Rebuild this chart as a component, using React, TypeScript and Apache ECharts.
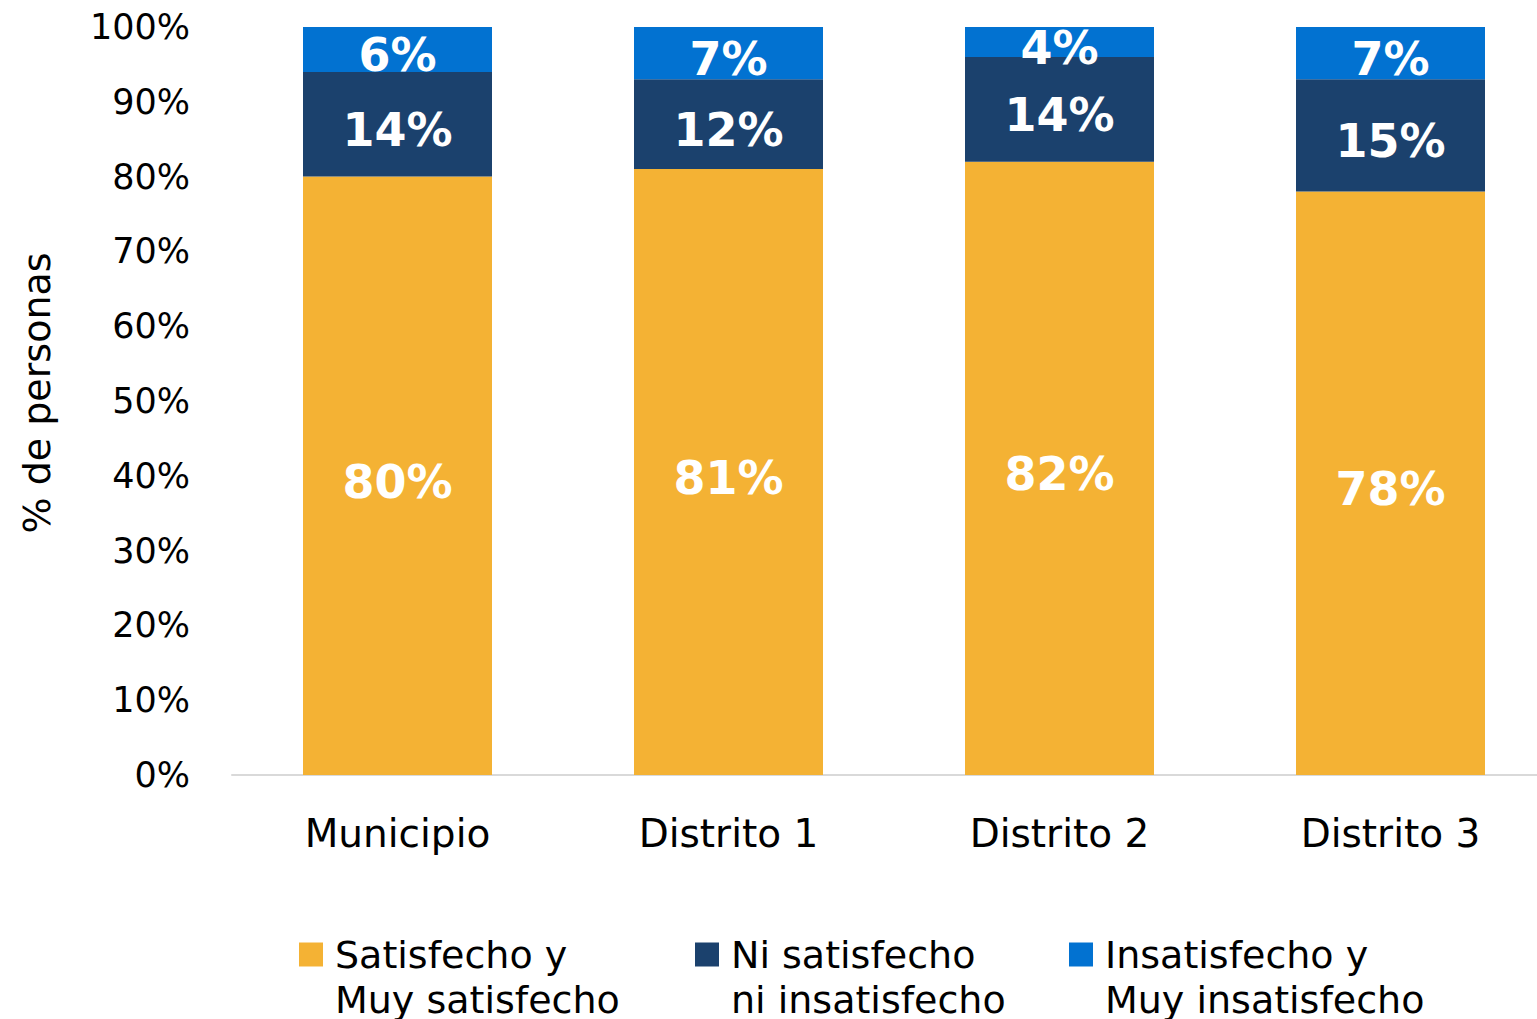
import React, { useEffect, useRef } from "react";
import * as echarts from "echarts";

const categories = ["Municipio", "Distrito 1", "Distrito 2", "Distrito 3"];
const seriesNames = [
  "Satisfecho y\nMuy satisfecho",
  "Ni satisfecho\nni insatisfecho",
  "Insatisfecho y\nMuy insatisfecho",
];
const satisfechos = [80, 81, 82, 78];
const neutros = [14, 12, 14, 15];
const insatisfechos = [6, 7, 4, 7];
const yTicks = { min: 0, max: 100, interval: 10 };

const colors = ["#F4B234", "#1B416D", "#0272D1"];
const FONT = "DejaVu Sans";

export default function App() {
  const ref = useRef<HTMLDivElement>(null);
  useEffect(() => {
    if (!ref.current) return;
    const chart = echarts.init(ref.current, null, { renderer: "svg" });
    const dataSets = [satisfechos, neutros, insatisfechos];
    const legendLefts = [299, 695, 1069];
    chart.setOption({
      animation: false,
      textStyle: { fontFamily: FONT },
      grid: { left: 232, top: 27, right: 0, height: 748, containLabel: false },
      xAxis: {
        type: "category",
        data: categories,
        axisTick: { show: false },
        axisLine: { lineStyle: { color: "#D9D9D9", width: 2 } },
        axisLabel: { color: "#000", fontSize: 39, margin: 39, fontFamily: FONT },
      },
      yAxis: {
        type: "value",
        min: yTicks.min,
        max: yTicks.max,
        interval: yTicks.interval,
        splitLine: { show: false },
        axisLine: { show: false },
        axisTick: { show: false },
        axisLabel: {
          color: "#000",
          fontSize: 35,
          margin: 42,
          fontFamily: FONT,
          formatter: "{value}%",
        },
        name: "% de personas",
        nameLocation: "middle",
        nameGap: 176,
        nameTextStyle: {
          color: "#000",
          fontSize: 38,
          fontFamily: FONT,
          padding: [0, 0, 0, 16],
        },
      },
      legend: seriesNames.map((name, i) => ({
        data: [name],
        left: legendLefts[i],
        top: 887,
        padding: 0,
        itemWidth: 24,
        itemHeight: 24,
        icon: "rect",
        selectedMode: false,
        formatter: (n: string) => " \n" + n,
        textStyle: {
          color: "#000",
          fontSize: 38,
          lineHeight: 45,
          fontFamily: FONT,
          padding: [0, 0, 0, 7],
        },
      })),
      series: seriesNames.map((name, i) => ({
        name,
        type: "bar",
        stack: "total",
        barWidth: 189,
        data: dataSets[i],
        itemStyle: { color: colors[i] },
        label: {
          show: true,
          position: "inside",
          color: "#fff",
          fontSize: 46,
          fontWeight: "bold",
          fontFamily: FONT,
          offset: [0, 6],
          formatter: (p: any) => Math.round(p.value) + "%",
        },
      })),
    });
    return () => chart.dispose();
  }, []);
  return (
    <div
      style={{
        position: "absolute",
        left: 0,
        top: 0,
        width: 1537,
        height: 1019,
        overflow: "hidden",
      }}
    >
      <div ref={ref} style={{ width: 1556, height: 1019 }} />
    </div>
  );
}
